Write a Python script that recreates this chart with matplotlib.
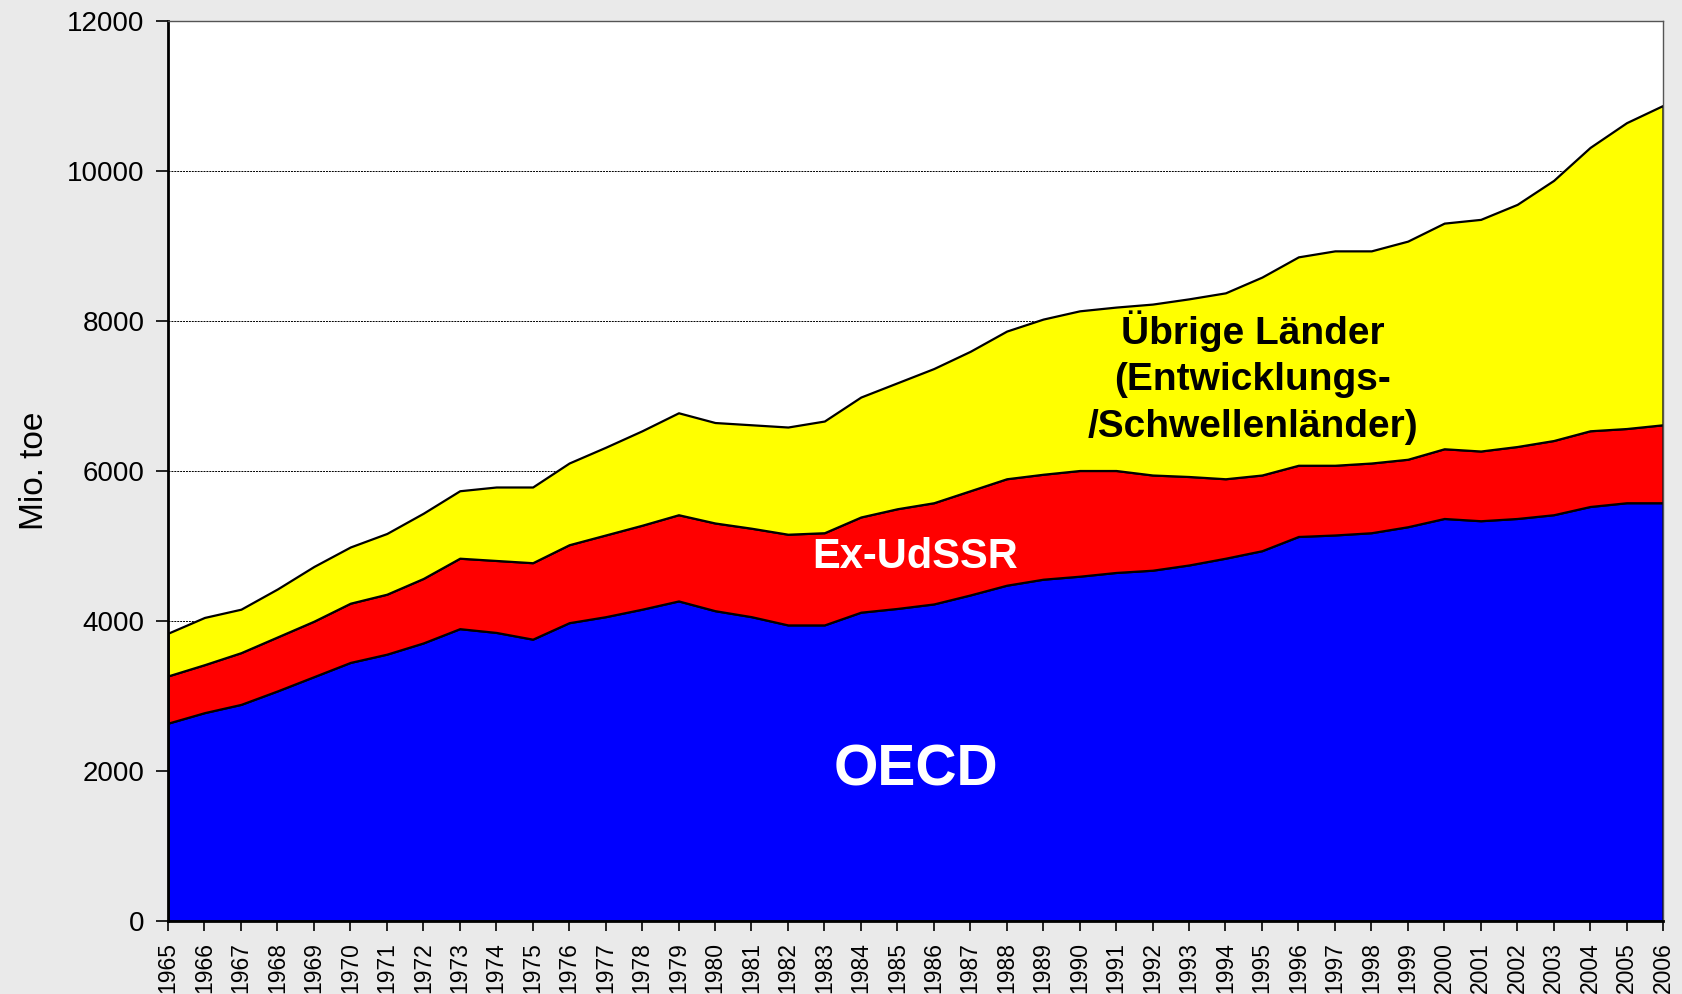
import matplotlib
matplotlib.use("Agg")
import matplotlib.pyplot as plt
import numpy as np

plt.rcParams['font.family'] = ['Liberation Sans', 'DejaVu Sans']

years = list(range(1965, 2007))

# cumulative tops (Mio. toe)
oecd = [2640, 2780, 2890, 3070, 3260, 3450, 3560, 3710, 3900, 3850,
        3760, 3980, 4060, 4160, 4270, 4140, 4060, 3950, 3950, 4120,
        4170, 4230, 4350, 4480, 4560, 4600, 4650, 4680, 4750, 4840,
        4940, 5130, 5150, 5180, 5260, 5370, 5340, 5370, 5420, 5530,
        5580, 5580]
oecd_plus_exudssr = [3270, 3420, 3580, 3790, 4000, 4240, 4360, 4570, 4840, 4810,
                     4780, 5020, 5150, 5280, 5420, 5310, 5240, 5160, 5180, 5390,
                     5500, 5580, 5740, 5900, 5960, 6010, 6010, 5950, 5930, 5900,
                     5950, 6080, 6080, 6110, 6160, 6300, 6270, 6330, 6410, 6540,
                     6570, 6620]
total = [3840, 4050, 4160, 4430, 4730, 4990, 5170, 5440, 5740, 5790,
         5790, 6110, 6320, 6540, 6780, 6650, 6620, 6590, 6670, 6990,
         7180, 7370, 7600, 7870, 8030, 8140, 8190, 8230, 8300, 8380,
         8590, 8860, 8940, 8940, 9070, 9310, 9360, 9560, 9880, 10320,
         10650, 10880]

exudssr = [b - a for a, b in zip(oecd, oecd_plus_exudssr)]
uebrige = [c - b for b, c in zip(oecd_plus_exudssr, total)]

y_ticks = [0, 2000, 4000, 6000, 8000, 10000, 12000]

fig = plt.figure(figsize=(16.82, 9.94), dpi=100, facecolor='#EAEAEA')
ax = fig.add_axes([0.0999, 0.0734, 0.8888, 0.905])
ax.set_facecolor('white')

ax.stackplot(years, oecd, exudssr, uebrige,
             colors=['#0000FF', '#FF0000', '#FFFF00'],
             edgecolor='black', linewidth=1.6, zorder=2)

for yv in y_ticks[1:]:
    ax.axhline(yv, color='black', linestyle=(0, (2, 1)), linewidth=0.7, zorder=1)

ax.set_xlim(1965, 2006)
ax.set_ylim(0, 12000)
ax.set_xticks(years)
ax.set_xticklabels([str(y) for y in years], rotation=90, fontsize=16.5)
ax.set_yticks(y_ticks)
ax.set_yticklabels([str(v) for v in y_ticks], fontsize=20)
ax.tick_params(axis='y', length=9, width=1.2, pad=8, direction='out')
ax.tick_params(axis='x', length=7, width=1.2, pad=8, direction='out')

for s in ['left', 'bottom']:
    ax.spines[s].set_linewidth(2.0)
    ax.spines[s].set_color('black')
for s in ['top', 'right']:
    ax.spines[s].set_linewidth(1.0)
    ax.spines[s].set_color('#555555')

ax.set_ylabel('Mio. toe', fontsize=24, labelpad=12)

ax.text(1985.5, 2010, 'OECD', color='white', fontsize=41, fontweight='bold',
        ha='center', va='center', zorder=3)
ax.text(1985.5, 4850, 'Ex-UdSSR', color='white', fontsize=30, fontweight='bold',
        ha='center', va='center', zorder=3)
ax.text(1994.75, 7250, 'Übrige Länder\n(Entwicklungs-\n/Schwellenländer)',
        color='black', fontsize=28, fontweight='bold', ha='center', va='center',
        linespacing=1.38, zorder=3)

fig.savefig('out.png', dpi=100, facecolor=fig.get_facecolor())
